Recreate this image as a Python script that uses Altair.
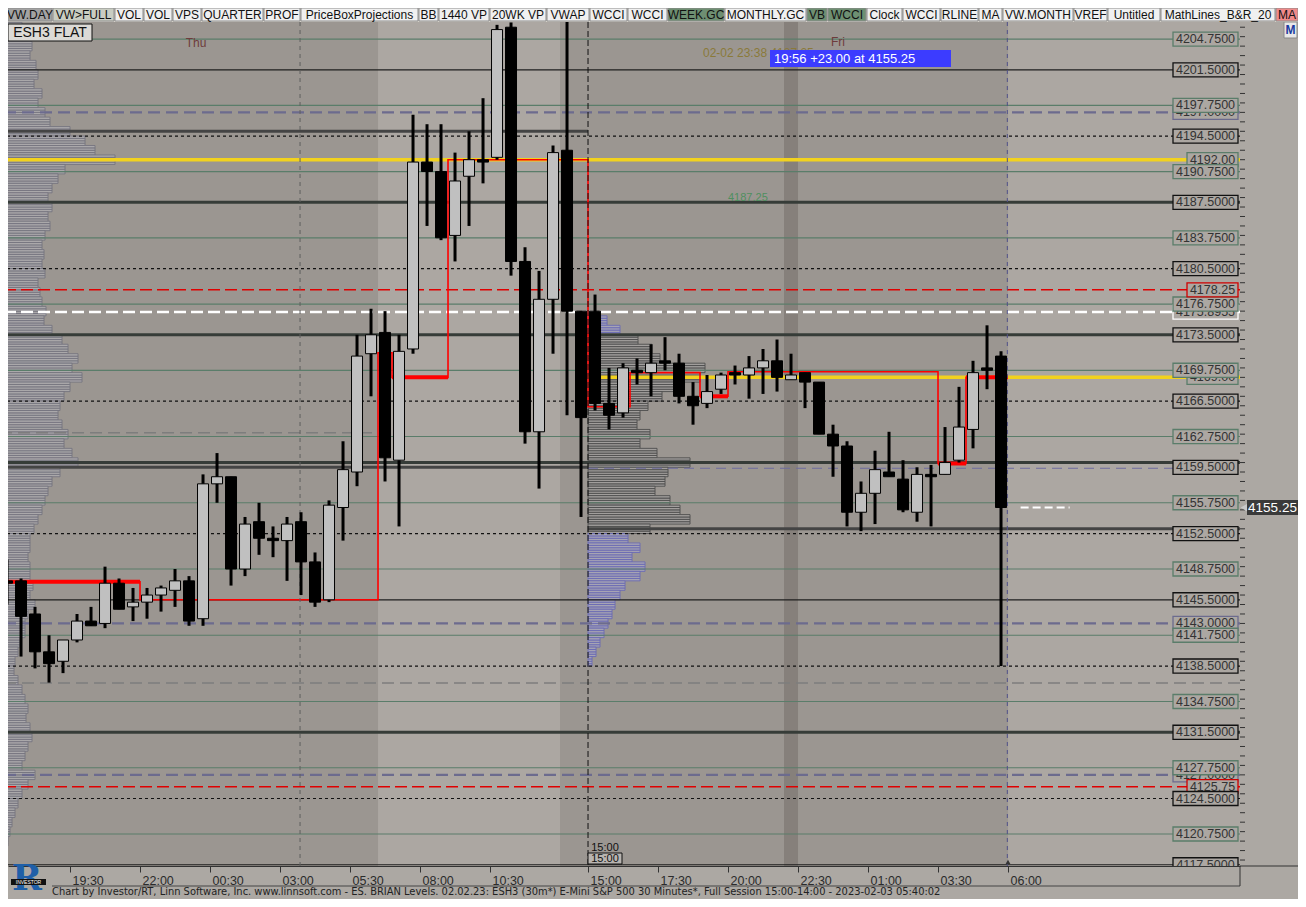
import altair as alt
import pandas as pd

# ---------------- chart values ----------------
opens = [4147.5, 4147.5, 4144.0, 4140.0, 4139.0, 4141.25, 4143.25, 4143.0, 4147.25, 4144.75,
         4145.25, 4146.0, 4146.5, 4147.5, 4143.5, 4157.75, 4158.5, 4148.75, 4153.75, 4152.0,
         4151.75, 4153.75, 4149.5, 4145.5, 4155.25, 4159.0, 4171.5, 4173.75, 4160.25, 4172.0,
         4191.75, 4190.75, 4184.0, 4190.25, 4192.0, 4192.25, 4206.0, 4181.25, 4163.25, 4177.25,
         4193.0, 4176.0, 4176.0, 4166.25, 4165.25, 4169.75, 4169.5, 4170.75, 4170.5, 4167.0,
         4166.25, 4167.75, 4169.5, 4169.25, 4170.0, 4170.75, 4168.75, 4169.5, 4168.5, 4163.0,
         4161.75, 4154.75, 4156.75, 4159.0, 4158.25, 4154.75, 4158.75, 4158.75, 4160.25, 4163.5,
         4170.0, 4171.25]
highs = [4149.75, 4147.75, 4144.75, 4141.75, 4141.25, 4144.0, 4144.75, 4149.0, 4147.75, 4146.75,
         4146.75, 4147.0, 4148.75, 4148.0, 4158.75, 4161.0, 4158.5, 4154.25, 4155.75, 4153.25,
         4154.25, 4154.75, 4150.5, 4156.0, 4162.25, 4173.5, 4176.25, 4176.0, 4173.5, 4196.75,
         4195.75, 4195.75, 4192.75, 4195.0, 4198.5, 4206.25, 4206.5, 4182.75, 4180.25, 4193.5,
         4207.0, 4176.0, 4177.75, 4170.0, 4170.5, 4171.0, 4172.5, 4173.25, 4171.5, 4168.5,
         4169.25, 4169.5, 4170.25, 4171.25, 4172.0, 4173.0, 4171.5, 4169.5, 4168.5, 4164.0,
         4162.25, 4158.0, 4161.25, 4163.25, 4160.25, 4159.5, 4159.75, 4163.75, 4168.0, 4170.75,
         4174.5, 4171.75]
lows = [4145.0, 4139.5, 4138.25, 4136.75, 4137.75, 4141.0, 4142.75, 4142.5, 4144.5, 4143.25,
        4143.5, 4144.25, 4144.75, 4142.75, 4142.75, 4155.75, 4147.0, 4148.0, 4150.25, 4150.0,
        4147.5, 4146.0, 4144.75, 4145.25, 4151.75, 4157.5, 4167.0, 4158.0, 4153.25, 4171.5,
        4185.0, 4183.5, 4181.25, 4185.0, 4189.5, 4192.0, 4179.75, 4162.0, 4157.25, 4171.5,
        4165.0, 4154.25, 4165.5, 4163.5, 4164.75, 4168.25, 4167.0, 4169.75, 4166.25, 4164.0,
        4165.75, 4167.25, 4168.25, 4166.75, 4167.25, 4167.5, 4168.75, 4165.75, 4163.0, 4158.5,
        4153.25, 4152.75, 4153.5, 4158.5, 4154.75, 4153.75, 4153.25, 4158.75, 4160.0, 4161.5,
        4167.75, 4138.5]
closes = [4147.25, 4143.75, 4140.0, 4138.75, 4141.25, 4143.25, 4142.75, 4147.25, 4144.5, 4145.25,
          4146.0, 4146.75, 4147.5, 4143.25, 4157.75, 4158.5, 4148.75, 4153.5, 4152.0, 4151.75,
          4153.5, 4149.5, 4145.25, 4155.5, 4159.25, 4171.25, 4173.5, 4160.5, 4171.75, 4191.75,
          4190.75, 4183.75, 4189.75, 4192.0, 4191.75, 4205.75, 4181.25, 4163.25, 4177.25, 4192.75,
          4176.0, 4164.75, 4166.25, 4165.0, 4170.0, 4169.5, 4170.5, 4170.5, 4167.0, 4166.0,
          4167.5, 4169.25, 4169.25, 4170.0, 4170.75, 4169.0, 4169.25, 4168.5, 4163.0, 4161.75,
          4154.75, 4156.75, 4159.25, 4158.5, 4155.0, 4158.75, 4158.5, 4160.0, 4163.75, 4169.5,
          4169.75, 4155.25]

time_tick_pos = [4.5, 9.5, 14.5, 19.5, 24.5, 29.5, 34.5, 41.5, 46.5, 51.5, 56.5, 61.5, 66.5, 71.5]
time_tick_labels = ["19:30", "22:00", "00:30", "03:00", "05:30", "08:00", "10:30",
                    "15:00", "17:30", "20:00", "22:30", "01:00", "03:30", "06:00"]
price_tick_labels = list(range(4120, 4201, 5))
price_minor_ticks = list(range(4118, 4207))

# session shading (bar-index boundaries)
band_start = [26.5, 55.5, 71.5]
band_end = [39.5, 56.5, 88.07]
band_kind = ["light", "dark", "light"]
session_break = 41.5
day_mark = 20.93
now_mark = 71.45

# level lines
green_levels = [4204.75, 4197.75, 4190.75, 4183.75, 4176.75, 4169.75, 4162.75, 4155.75,
                4148.75, 4141.75, 4134.75, 4127.75, 4120.75]
black_levels = [4201.5, 4194.5, 4187.5, 4180.5, 4173.5, 4166.5, 4159.5, 4152.5,
                4145.5, 4138.5, 4131.5, 4124.5, 4117.5]
thin_black_levels = [4201.5, 4145.5, 4117.5]
dotted_levels = [4194.5, 4180.5, 4166.5, 4152.5, 4138.5, 4124.5]
thick_levels = [4187.5, 4173.5, 4160.0, 4131.5]
thick_left_levels = [4195.0, 4159.5]
thick_right_levels = [4153.0]
purple_levels = [4197.0, 4143.0, 4127.0]
purple_right_levels = [4159.4]
red_levels = [4178.25, 4125.75]
white_levels = [4175.8955]
yellow_levels = [4192.0]
yellow_right_levels = [4169.0]
gray_levels = [4136.7]
gray_left_levels = [4163.15]
last_price = 4155.25

# red reference path (bar index, price)
red_path_x = [-0.5, 9.5, 9.5, 26.5, 26.5, 27.5, 27.5, 31.5, 31.5, 41.5, 41.5, 44.5, 44.5,
              49.5, 49.5, 51.5, 51.5, 66.5, 66.5, 68.5, 68.5, 71.5]
red_path_y = [4147.4, 4147.4, 4145.5, 4145.5, 4171.6, 4171.6, 4169.0, 4169.0, 4192.0, 4192.0,
              4165.9, 4165.9, 4169.5, 4169.5, 4167.0, 4167.0, 4169.6, 4169.6, 4159.9, 4159.9,
              4169.0, 4169.0]
red_thick_x0 = [-0.5, 27.5, 49.5, 66.5, 68.5]
red_thick_x1 = [9.5, 31.5, 51.5, 68.5, 71.5]
red_thick_y = [4147.4, 4169.0, 4167.0, 4159.9, 4169.0]

# volume profiles (1-point bins, length in pixels of the original)
left_prof_prices = list(range(4206, 4117, -1))
left_prof_len = [22, 28, 32, 30, 36, 38, 34, 42, 38, 45,
                 50, 70, 85, 95, 115, 65, 58, 52, 48, 52,
                 48, 50, 45, 42, 44, 42, 45, 38, 40, 42,
                 46, 44, 52, 62, 68, 78, 72, 82, 70, 64,
                 60, 58, 62, 68, 64, 72, 78, 60, 52, 48,
                 45, 42, 38, 34, 30, 30, 28, 30, 30, 33,
                 30, 35, 28, 25, 25, 20, 18, 15, 14, 18,
                 22, 25, 28, 26, 30, 32, 28, 25, 22, 35,
                 28, 22, 18, 15, 12, 10, 8, 6, 5]
sess_prof_prices = list(range(4175, 4138, -1))
sess_prof_len = [19, 32, 50, 64, 72, 117, 112, 94, 74, 60,
                 52, 49, 62, 52, 69, 102, 80, 77, 67, 82,
                 92, 102, 62, 40, 52, 44, 57, 52, 37, 32,
                 27, 24, 20, 16, 12, 8, 4]
sess_blue_above = 4173.5
sess_blue_below = 4152.5

toolbar_labels = ["VW.DAY", "VW>FULL", "VOL", "VOL", "VPS", "QUARTER", "PROF", "PriceBoxProjections",
                  "BB", "1440 VP", "20WK VP", "VWAP", "WCCI", "WCCI", "WEEK.GC", "MONTHLY.GC", "VB",
                  "WCCI", "Clock", "WCCI", "RLINE", "MA", "VW.MONTH", "VREF", "Untitled",
                  "MathLines_B&R_20", "MA"]
toolbar_x0 = [0, 45, 107, 136, 165, 194, 256, 293, 411, 431, 482, 539, 582, 620, 660, 717, 799, 820,
              859, 895, 933, 971, 995, 1066, 1100, 1153, 1268]
toolbar_x1 = [44, 106, 135, 164, 193, 255, 292, 410, 430, 481, 538, 581, 619, 659, 716, 798, 819, 858,
              894, 932, 970, 994, 1065, 1099, 1152, 1267, 1290]
toolbar_fill = ["#a3a3a3", "#c9cdc2"] + ["#f0f0f0"] * 12 + ["#6e8f72", "#f0f0f0", "#6e8f72", "#6e8f72"] \
    + ["#f0f0f0"] * 8 + ["#f08a8a"]

footer = ("Chart by Investor/RT, Linn Software, Inc. www.linnsoft.com - ES. BRIAN Levels.  02.02.23: "
          "ESH3 (30m*) E-Mini S&P 500 30 Minutes*, Full Session 15:00-14:00 - 2023-02-03 05:40:02")

# ---------------- layout constants ----------------
W, H = 1232, 844
PAD = {"left": 0, "top": 14, "right": 58, "bottom": 33}
X_DOM = [0.07, 88.07]
Y_DOM = [4117.37, 4206.55]
PX_PER_BAR = 14.0
BOX_H = 0.74
FONT = "Liberation Sans"
xs = alt.Scale(domain=X_DOM, nice=False, zero=False, padding=0)
ys = alt.Scale(domain=Y_DOM, nice=False, zero=False, padding=0)


def XQ(f):
    return alt.X(f, type="quantitative", scale=xs, axis=None)


def YQ(f):
    return alt.Y(f, type="quantitative", scale=ys, axis=None)


def hlines(levels, color, width, dash=None, x0=None, x1=None):
    df = pd.DataFrame({"p": levels})
    kw = dict(color=color, strokeWidth=width, clip=True)
    if dash:
        kw["strokeDash"] = dash
    enc = dict(y=YQ("p"))
    if x0 is not None:
        df["x0"] = x0
        df["x1"] = x1
        enc["x"] = XQ("x0")
        enc["x2"] = "x1:Q"
    return alt.Chart(df).mark_rule(**kw).encode(**enc)


def vline(x, color, width, dash=None):
    kw = dict(color=color, strokeWidth=width)
    if dash:
        kw["strokeDash"] = dash
    return alt.Chart(pd.DataFrame({"x": [x]})).mark_rule(**kw).encode(x=XQ("x"))


def px_text(text, x, y, size=12, color="#222", align="center", font=FONT, weight="normal", baseline="middle"):
    return alt.Chart(pd.DataFrame({"t": [text]})).mark_text(
        align=align, baseline=baseline, fontSize=size, color=color, font=font, fontWeight=weight
    ).encode(x=alt.value(x), y=alt.value(y), text="t:N")


def px_rect(x0, x1, y0, y1, fill, stroke=None, sw=1.0):
    kw = dict(fill=fill)
    if stroke:
        kw.update(stroke=stroke, strokeWidth=sw)
    return alt.Chart(pd.DataFrame({"a": [0]})).mark_rect(**kw).encode(
        x=alt.value(x0), x2=alt.value(x1), y=alt.value(y0), y2=alt.value(y1))


def px_rule(x0, x1, y0, y1, color, width=1.0):
    return alt.Chart(pd.DataFrame({"a": [0]})).mark_rule(color=color, strokeWidth=width).encode(
        x=alt.value(x0), x2=alt.value(x1), y=alt.value(y0), y2=alt.value(y1))


layers = []

# shading bands
bands = pd.DataFrame({"s": band_start, "e": band_end, "k": band_kind})
layers.append(alt.Chart(bands).mark_rect(clip=True).encode(
    x=XQ("s"), x2="e:Q", y=alt.value(0), y2=alt.value(H),
    color=alt.Color("k:N", scale=alt.Scale(domain=["light", "dark"], range=["#aca7a2", "#86807b"]), legend=None)))

# volume profiles
rows = []
for p, L in zip(left_prof_prices, left_prof_len):
    for k in range(4):
        y0 = p - 0.5 + k * 0.25
        rows.append({"x0": -0.5, "x1": -0.5 + L / PX_PER_BAR, "y0": y0, "y1": y0 + 0.25})
lp = pd.DataFrame(rows)
layers.append(alt.Chart(lp).mark_rect(clip=True, fill="#aaa8aa", stroke="#75747f", strokeWidth=0.9).encode(
    x=XQ("x0"), x2="x1:Q", y=YQ("y0"), y2="y1:Q"))

rows = []
for p, L in zip(sess_prof_prices, sess_prof_len):
    blue = p > sess_blue_above or p < sess_blue_below
    for k in range(4):
        y0 = p - 0.5 + k * 0.25
        rows.append({"x0": session_break, "x1": session_break + L / PX_PER_BAR,
                     "y0": y0, "y1": y0 + 0.25, "b": "blue" if blue else "gray"})
sp = pd.DataFrame(rows)
layers.append(alt.Chart(sp).mark_rect(clip=True, strokeWidth=0.9).encode(
    x=XQ("x0"), x2="x1:Q", y=YQ("y0"), y2="y1:Q",
    fill=alt.Fill("b:N", scale=alt.Scale(domain=["gray", "blue"], range=["#a19e9c", "#a6a4b4"]), legend=None),
    stroke=alt.Stroke("b:N", scale=alt.Scale(domain=["gray", "blue"], range=["#4d4d4d", "#6a6ab4"]), legend=None)))

# level lines
layers.append(hlines(green_levels, "#5a7d6a", 1.2))
layers.append(hlines(gray_levels, "#7d7d7d", 1.5, [12, 6]))
layers.append(hlines(gray_left_levels, "#7d7d7d", 1.5, [12, 6], -0.5, 26.5))
layers.append(hlines(thin_black_levels, "#1e1e1e", 1.2))
layers.append(hlines(dotted_levels, "#111111", 1.2, [3, 3]))
layers.append(hlines(thick_levels, "#363c38", 3))
layers.append(hlines(thick_left_levels, "#444444", 3, None, -0.5, session_break))
layers.append(hlines(thick_right_levels, "#444444", 3, None, session_break, X_DOM[1]))
layers.append(hlines(purple_levels, "#6c6b8e", 2.3, [12, 6]))
layers.append(hlines(purple_right_levels, "#6c6b9e", 1.2, [10, 6], session_break, X_DOM[1]))
layers.append(hlines(red_levels, "#e00000", 1.5, [12, 5]))
layers.append(hlines(white_levels, "#ffffff", 2.5, [12, 5]))
layers.append(hlines(yellow_levels, "#f2d21e", 3.5))
layers.append(hlines(yellow_right_levels, "#f2d21e", 3.5, None, session_break, X_DOM[1]))
layers.append(hlines([last_price], "#ffffff", 2, [8, 4], 72.4, 75.9))

# red reference path
rp = pd.DataFrame({"x": red_path_x, "y": red_path_y, "o": list(range(len(red_path_x)))})
layers.append(alt.Chart(rp).mark_line(color="#ff0000", strokeWidth=1.6, clip=True).encode(
    x=XQ("x"), y=YQ("y"), order="o:Q"))
rt = pd.DataFrame({"x0": red_thick_x0, "x1": red_thick_x1, "y": red_thick_y})
layers.append(alt.Chart(rt).mark_rule(color="#ff0000", strokeWidth=4, clip=True).encode(
    x=XQ("x0"), x2="x1:Q", y=YQ("y")))

# vertical markers
layers.append(vline(day_mark, "#5e5e5e", 1, [4, 4]))
layers.append(vline(session_break, "#111111", 1, [6, 3]))
layers.append(vline(now_mark, "#50508a", 1, [4, 4]))

# candles
cdf = pd.DataFrame({"idx": list(range(len(opens))), "open": opens, "high": highs, "low": lows, "close": closes})
label_expr = " : ".join(f"datum.value == {p} ? '{l}'" for p, l in zip(time_tick_pos, time_tick_labels)) + " : ''"
x_axis = alt.Axis(values=time_tick_pos, labelExpr=label_expr, orient="bottom", tickSize=6, tickColor="#333",
                  domainColor="#333", labelFont=FONT, labelFontSize=12.5, labelColor="#2b2b2b",
                  labelAlign="left", labelBaseline="top", labelPadding=2, labelOffset=2,
                  grid=False, title=None, labelOverlap=False, labelFlush=False)
y_axis = alt.Axis(orient="right", values=price_tick_labels, tickSize=10, tickColor="#333", domainColor="#333",
                  labelFont=FONT, labelFontSize=13.5, labelColor="#333", labelBaseline="alphabetic",
                  labelPadding=1, labelAlign="left", grid=False, title=None, labelOverlap=False, format="d")
layers.append(alt.Chart(cdf).mark_rule(color="black", strokeWidth=3, clip=True).encode(
    x=alt.X("idx:Q", scale=xs, axis=x_axis),
    y=alt.Y("low:Q", scale=ys, axis=y_axis), y2="high:Q"))
layers.append(alt.Chart(cdf).mark_bar(width=11, stroke="black", strokeWidth=1, clip=True).encode(
    x=XQ("idx"), y=YQ("open"), y2="close:Q",
    color=alt.condition("datum.close > datum.open", alt.value("#c0c0c0"), alt.value("#000000"))))

# minor ticks on the price axis
layers.append(alt.Chart(pd.DataFrame({"p": price_minor_ticks})).mark_rule(color="#333", strokeWidth=1).encode(
    y=YQ("p"), x=alt.value(W), x2=alt.value(W + 5)))


# price label boxes
def label_group(prices, texts, stroke, x0):
    df = pd.DataFrame({"p": prices, "t": texts})
    df["y0"] = df.p - BOX_H
    df["y1"] = df.p + BOX_H
    r = alt.Chart(df).mark_rect(fill="#aca7a2", stroke=stroke, strokeWidth=1.3, clip=True).encode(
        x=alt.value(x0), x2=alt.value(1230), y=YQ("y0"), y2="y1:Q")
    t = alt.Chart(df).mark_text(fontSize=12.5, font=FONT, color="#333", clip=True).encode(
        x=alt.value((x0 + 1230) / 2), y=YQ("p"), text="t:N")
    return [r, t]


layers += label_group(purple_levels, [f"{p:.4f}" for p in purple_levels], "#6c6b8e", 1165)
layers += label_group(white_levels, [f"{p:.4f}" for p in white_levels], "#ffffff", 1165)
layers += label_group(yellow_levels + yellow_right_levels,
                      [f"{p:.2f}" for p in yellow_levels + yellow_right_levels], "#5a7d6a", 1179)
layers += label_group(green_levels, [f"{p:.4f}" for p in green_levels], "#5a7d6a", 1165)
layers += label_group(red_levels, [f"{p:.2f}" for p in red_levels], "#d00000", 1179)
layers += label_group(black_levels, [f"{p:.4f}" for p in black_levels], "#111111", 1165)

# current price marker
cp = pd.DataFrame({"p": [last_price], "y0": [last_price - 0.8], "y1": [last_price + 0.8], "t": [f"{last_price:.2f}"]})
layers.append(alt.Chart(cp).mark_point(shape="triangle-left", size=60, filled=True, color="#c8c8c8", opacity=1).encode(
    x=alt.value(W + 4), y=YQ("p")))
layers.append(alt.Chart(cp).mark_rect(fill="#3a3a3a").encode(
    x=alt.value(W + 7), x2=alt.value(1290), y=YQ("y0"), y2="y1:Q"))
layers.append(alt.Chart(cp).mark_text(fontSize=13.5, font=FONT, color="#ffffff").encode(
    x=alt.value(1264.5), y=YQ("p"), text="t:N"))

# annotations
layers.append(px_rect(0, 84, 2, 19, "#dcdad6", "#111", 1))
layers.append(px_text("ESH3 FLAT", 42, 11, 14, "#111"))
layers.append(px_text("Thu", 188, 21, 12, "#6e3c3c"))
layers.append(px_text("Fri", 830, 20, 12, "#6e3c3c"))
layers.append(px_text("02-02 23:38  4187.25", 695, 31, 12, "#8a7a3a", align="left"))
layers.append(px_rect(762, 943, 28, 45, "#3c3cff"))
layers.append(px_text("19:56  +23.00 at 4155.25", 766, 37, 13, "#ffffff", align="left"))
layers.append(px_text("4187.25", 720, 176, 11, "#4f8f5f", align="left"))
layers.append(px_text("15:00", 597, 826, 11, "#111"))
layers.append(px_rect(580, 614, 831, 842, "#b8b4b0", "#111", 1))
layers.append(px_text("15:00", 597, 837, 11, "#111"))
layers.append(alt.Chart(pd.DataFrame({"a": [0]})).mark_point(shape="triangle-up", size=25, filled=True,
                                                             color="#333", opacity=1).encode(
    x=alt.value(1000), y=alt.value(840)))
layers.append(px_rect(1276, 1289, 0, 16, "#e8e8e8", "#888", 1))
layers.append(px_text("M", 1282.5, 8, 12, "#1a3aa0", weight="bold"))

# axis frame lines outside plot
layers.append(px_rule(W, 1290, H, H, "#333"))
layers.append(px_rule(44, W, 864, 864, "#444"))
layers.append(px_rule(W, W, H, 864, "#333"))

# toolbar
tb = pd.DataFrame({"label": toolbar_labels, "x0": toolbar_x0, "x1": toolbar_x1, "fill": toolbar_fill})
tb["xc"] = (tb.x0 + tb.x1) / 2
layers.append(px_rect(0, 1290, -14, 0, "#d4d0c8"))
layers.append(alt.Chart(tb).mark_rect(stroke="#8c8c8c", strokeWidth=1).encode(
    x=alt.X("x0:Q", scale=None, axis=None), x2="x1:Q", y=alt.value(-14), y2=alt.value(-1),
    fill=alt.Fill("fill:N", scale=None)))
layers.append(alt.Chart(tb).mark_text(fontSize=12, font=FONT, color="#111", baseline="middle").encode(
    x=alt.X("xc:Q", scale=None, axis=None), y=alt.value(-7), text="label:N"))

# footer and logo
layers.append(px_text(footer, 44, 870, 11, "#222", align="left",
                      font="Liberation Sans Narrow, DejaVu Sans Condensed, sans-serif"))
layers.append(px_text("R", 19, 857, 36, "#1f5fa8", font="DejaVu Serif", weight="bold"))
layers.append(px_rect(3, 38, 857, 863, "#111"))
layers.append(px_text("INVESTOR", 20.5, 860, 5, "#ffffff"))

chart = alt.layer(*layers).resolve_scale(x="independent").properties(
    width=W, height=H, padding=PAD, autosize=alt.AutoSizeParams(type="none"), background="#aca8a3"
).configure_view(stroke=None, fill="#9b9691")

chart.save("out.html", embed_options={"renderer": "svg", "actions": False})
